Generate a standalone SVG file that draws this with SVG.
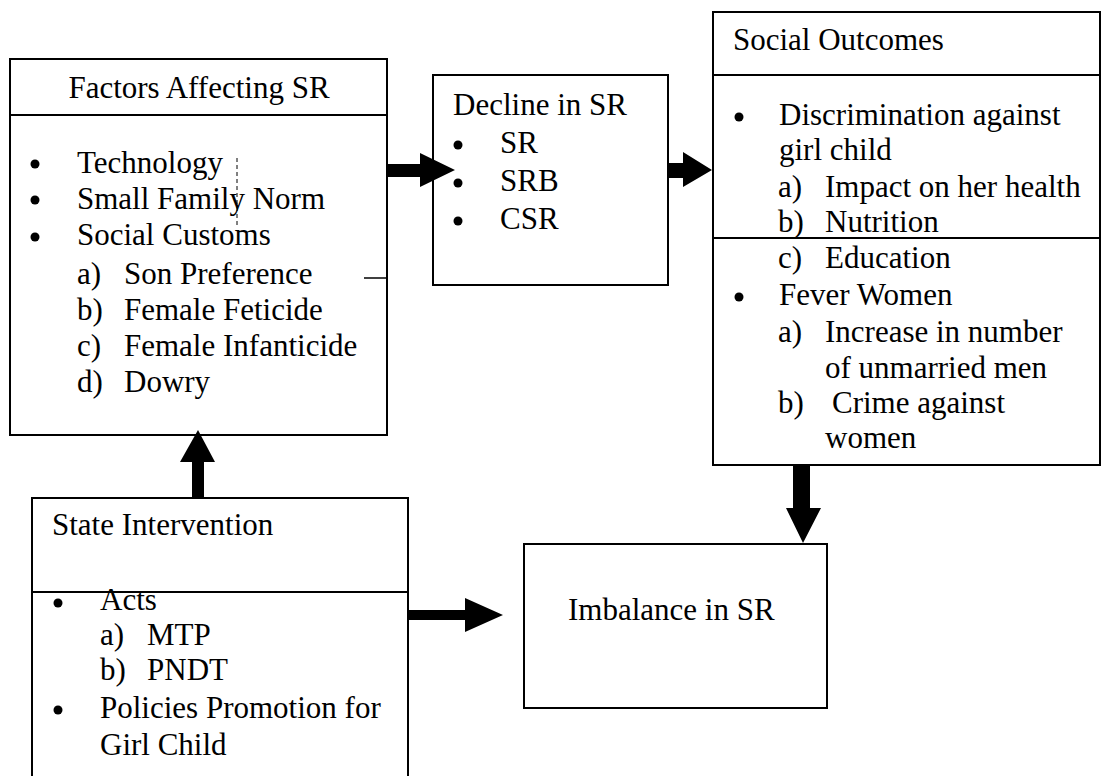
<svg xmlns="http://www.w3.org/2000/svg" width="1104" height="776" viewBox="0 0 1104 776">
<style>
.box{fill:#fff;stroke:#000;stroke-width:2}
.div{stroke:#000;stroke-width:2}
text{font-family:"Liberation Serif","Times New Roman",serif;font-size:31px;fill:#000}
.arr{fill:#000;stroke:none}
.bul{fill:#000}
</style>
<rect width="1104" height="776" fill="#fff"/>
<g id="factors">
<rect class="box" x="10" y="59" width="377" height="376"/>
<line class="div" x1="10" y1="115" x2="387" y2="115"/>
<text x="199" y="98" text-anchor="middle">Factors Affecting SR</text>
<circle class="bul" cx="35" cy="164" r="4.5"/><text x="77" y="173">Technology</text>
<circle class="bul" cx="35" cy="200" r="4.5"/><text x="77" y="209">Small Family Norm</text>
<circle class="bul" cx="35" cy="237" r="4.5"/><text x="77" y="245">Social Customs</text>
<text x="77" y="284">a)</text><text x="124" y="284">Son Preference</text>
<text x="77" y="320">b)</text><text x="124" y="320">Female Feticide</text>
<text x="77" y="356">c)</text><text x="124" y="356">Female Infanticide</text>
<text x="77" y="392">d)</text><text x="124" y="392">Dowry</text>
<line x1="237" y1="158" x2="237" y2="228" stroke="#000" stroke-width="1" stroke-dasharray="4 3"/>
<line x1="364" y1="278" x2="387" y2="278" stroke="#000" stroke-width="1.5"/>
</g>
<g id="decline">
<rect class="box" x="433" y="75" width="235" height="210"/>
<text x="453" y="115">Decline in SR</text>
<circle class="bul" cx="458" cy="145" r="4.5"/><text x="500" y="153">SR</text>
<circle class="bul" cx="458" cy="183" r="4.5"/><text x="500" y="191">SRB</text>
<circle class="bul" cx="458" cy="221" r="4.5"/><text x="500" y="229">CSR</text>
</g>
<g id="outcomes">
<rect class="box" x="713" y="12" width="387" height="453"/>
<line class="div" x1="713" y1="75" x2="1100" y2="75"/>
<line class="div" x1="713" y1="238" x2="1100" y2="238"/>
<text x="733" y="50">Social Outcomes</text>
<circle class="bul" cx="739" cy="117" r="4.5"/><text x="779" y="125">Discrimination against</text>
<text x="779" y="160">girl child</text>
<text x="778" y="197">a)</text><text x="825" y="197">Impact on her health</text>
<text x="778" y="232">b)</text><text x="825" y="232">Nutrition</text>
<text x="778" y="268">c)</text><text x="825" y="268">Education</text>
<circle class="bul" cx="739" cy="297" r="4.5"/><text x="779" y="305">Fever Women</text>
<text x="778" y="342">a)</text><text x="825" y="342">Increase in number</text>
<text x="825" y="378">of unmarried men</text>
<text x="778" y="413">b)</text><text x="832" y="413">Crime against</text>
<text x="825" y="448">women</text>
</g>
<g id="state">
<rect class="box" x="32" y="498" width="376" height="290"/>
<line class="div" x1="32" y1="592" x2="408" y2="592"/>
<text x="52" y="535">State Intervention</text>
<circle class="bul" cx="58" cy="603" r="4.5"/><text x="100" y="610">Acts</text>
<text x="100" y="645">a)</text><text x="147" y="645">MTP</text>
<text x="100" y="680">b)</text><text x="147" y="680">PNDT</text>
<circle class="bul" cx="58" cy="710" r="4.5"/><text x="100" y="718">Policies Promotion for</text>
<text x="100" y="755">Girl Child</text>
</g>
<g id="imbalance">
<rect class="box" x="524" y="544" width="303" height="164"/>
<text x="568" y="620">Imbalance in SR</text>
</g>
<g id="connectors">
<polygon class="arr" points="387,164 420,164 420,153 455,170 420,187 420,177 387,177"/>
<polygon class="arr" points="668,163 683,163 683,152 712,170 683,187 683,178 668,178"/>
<polygon class="arr" points="793,465 810,465 810,508 821,508 803,543 786,508 793,508"/>
<polygon class="arr" points="192,498 204,498 204,462 215,462 198,430 180,462 192,462"/>
<polygon class="arr" points="408,610 465,610 465,598 503,615 465,632 465,620 408,620"/>
</g>
</svg>
